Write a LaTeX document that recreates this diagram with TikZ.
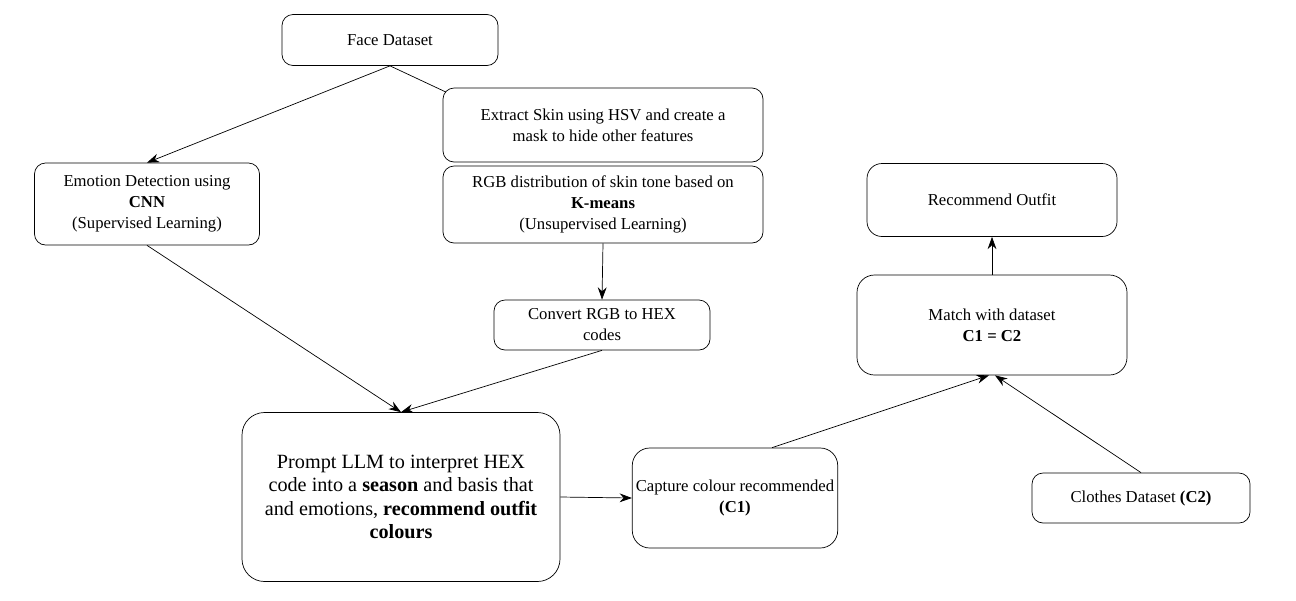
\documentclass[tikz,border=0pt]{standalone}
\usepackage{fontspec}
\setmainfont{Liberation Serif}
\usepackage{tikz}
\usetikzlibrary{calc,positioning,arrows,shapes}
\usetikzlibrary{arrows.meta}
\tikzset{
	->,
	>={Stealth[length=7pt,width=5pt]},
	line width=0.6pt,
	box/.style={draw, rounded corners=0.22cm, align=center, inner sep=2pt,
		font=\fontsize{9.5}{12}\selectfont},
	bigbox/.style={box, rounded corners=0.45cm, font=\fontsize{11.5}{13.4}\selectfont},
}

\begin{document}
\begin{tikzpicture}
		\useasboundingbox (0,0) rectangle (25.92,-12);
		\node[box, minimum width=4.32cm, minimum height=1.02cm] (face) at (7.8,-0.8) {Face Dataset};
		\node[box, minimum width=6.4cm, minimum height=1.48cm] (extract) at (12.06,-2.5) {Extract Skin using HSV and create a\\mask to hide other features};
		\node[box, minimum width=6.4cm, minimum height=1.54cm] (rgb) at (12.06,-4.09) {RGB distribution of skin tone based on\\\textbf{K-means}\\(Unsupervised Learning)};
		\node[box, minimum width=4.5cm, minimum height=1.64cm] (emo) at (2.94,-4.08) {Emotion Detection using\\\textbf{CNN}\\(Supervised Learning)};
		\node[box, minimum width=4.32cm, minimum height=1.0cm] (hex) at (12.04,-6.5) {Convert RGB to HEX\\codes};
		\node[bigbox, minimum width=6.36cm, minimum height=3.38cm] (llm) at (8.02,-9.94) {Prompt LLM to interpret HEX\\code into a \textbf{season} and basis that\\and emotions, \textbf{recommend outfit}\\\textbf{colours}};
		\node[box, rounded corners=0.35cm, minimum width=4.08cm, minimum height=2.0cm] (capture) at (14.7,-9.96) {Capture colour recommended\\\textbf{(C1)}};
		\node[box, rounded corners=0.3cm, minimum width=5.0cm, minimum height=1.46cm] (outfit) at (19.84,-4.0) {Recommend Outfit};
		\node[box, rounded corners=0.35cm, minimum width=5.4cm, minimum height=2.0cm] (match) at (19.84,-6.5) {Match with dataset\\\textbf{C1 = C2}};
		\node[box, minimum width=4.36cm, minimum height=1.0cm] (clothes) at (22.82,-9.96) {Clothes Dataset \textbf{(C2)}};

		\path (face.south) edge (emo.north)
		(face.south) edge[-] ($(extract.north west)+(0.07,-0.09)$)
		(emo.south) edge (llm.north)
		(rgb.south) edge (hex.north)
		(hex.south) edge (llm.north)
		(llm.east) edge (capture.west)
		($(capture.north)+(0.74,0)$) edge ($(match.south)+(-0.06,0)$)
		(clothes.north) edge ($(match.south)+(0.06,0)$)
		(match.north) edge (outfit.south);
	\end{tikzpicture}
\end{document}
